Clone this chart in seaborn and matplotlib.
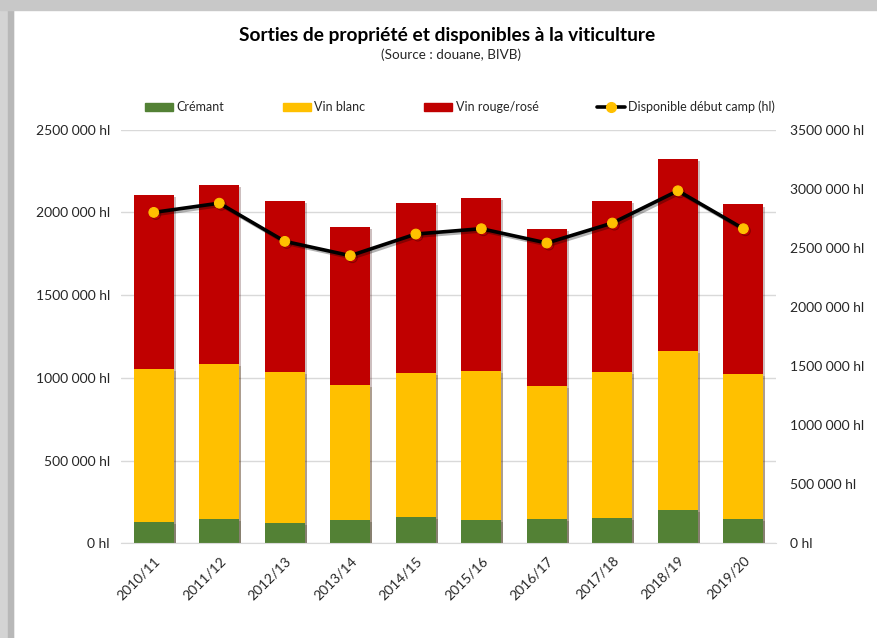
import matplotlib
matplotlib.use('Agg')
import matplotlib.pyplot as plt
import matplotlib.patheffects as pe
from matplotlib.patches import Rectangle, Patch
from matplotlib.lines import Line2D
from matplotlib.ticker import FuncFormatter
import seaborn as sns
import pandas as pd
import numpy as np

sns.set_style('white')
plt.rcParams['font.family'] = ['Lato', 'DejaVu Sans']

campagnes = ['2010/11', '2011/12', '2012/13', '2013/14', '2014/15',
             '2015/16', '2016/17', '2017/18', '2018/19', '2019/20']
cremant = [129000, 147000, 125000, 141000, 159000, 141000, 147000, 155000, 201000, 147000]
vin_blanc = [923000, 935000, 909000, 816000, 871000, 901000, 802000, 879000, 962000, 875000]
vin_rouge = [1054000, 1084000, 1037000, 955000, 1027000, 1046000, 951000, 1037000, 1159000, 1025000]
disponible = [2799000, 2877000, 2554000, 2433000, 2616000, 2661000, 2540000, 2709000, 2982000, 2661000]

c_green, c_yellow, c_red = '#538135', '#FFC000', '#C00000'

df = pd.DataFrame({'campagne': campagnes, 'cremant': cremant,
                   'blanc': vin_blanc, 'rouge': vin_rouge, 'dispo': disponible})
df['cum_blanc'] = df['cremant'] + df['blanc']
df['cum_total'] = df['cum_blanc'] + df['rouge']

fig = plt.figure(figsize=(8.77, 6.38), dpi=100)
ax = fig.add_axes([0.138, 0.1484, 0.747, 0.6486])

# stacked bars: draw cumulative totals from the top segment down
shadow = [pe.SimplePatchShadow(offset=(1.5, -1.5), alpha=0.25), pe.Normal()]
for col, color in [('cum_total', c_red), ('cum_blanc', c_yellow), ('cremant', c_green)]:
    sns.barplot(data=df, x='campagne', y=col, color=color, width=0.61,
                saturation=1, ax=ax, linewidth=0, zorder=2)
for p in ax.patches:
    p.set_path_effects(shadow)

ax.set_ylim(0, 2500000)
ax.set_yticks(np.arange(0, 2500001, 500000))
fmt = FuncFormatter(lambda v, _: '0 hl' if v == 0 else '%d 000 hl' % (v // 1000))
ax.yaxis.set_major_formatter(fmt)
ax.yaxis.grid(True, color='#d9d9d9', linewidth=1)
ax.set_axisbelow(True)
ax.set_xlabel('')
ax.set_ylabel('')
for s in ['top', 'right', 'left']:
    ax.spines[s].set_visible(False)
ax.spines['bottom'].set_color('#d9d9d9')
ax.tick_params(axis='both', length=0, labelsize=10, colors='#262626', pad=8)
ax.set_xlim(-0.5, len(campagnes) - 0.5)
plt.setp(ax.get_xticklabels(), rotation=45, ha='right', rotation_mode='anchor')

ax2 = ax.twinx()
sns.lineplot(x=np.arange(len(campagnes)), y=df['dispo'], ax=ax2, color='black',
             linewidth=2.6, marker='o', markersize=7, markerfacecolor=c_yellow,
             markeredgecolor=c_yellow, zorder=5,
             path_effects=[pe.SimpleLineShadow(offset=(1.5, -1.5), alpha=0.3), pe.Normal()])
ax2.set_ylim(0, 3500000)
ax2.set_yticks(np.arange(0, 3500001, 500000))
ax2.yaxis.set_major_formatter(fmt)
ax2.set_ylabel('')
for s in ['top', 'right', 'left', 'bottom']:
    ax2.spines[s].set_visible(False)
ax2.tick_params(axis='y', length=0, labelsize=10, colors='#262626', pad=10)
ax2.set_xlim(-0.5, len(campagnes) - 0.5)

fig.text(0.51, 0.945, 'Sorties de propriété et disponibles à la viticulture',
         ha='center', va='center', fontsize=13.8, fontweight='bold', color='black')
fig.text(0.514, 0.914, '(Source : douane, BIVB)', ha='center', va='center',
         fontsize=9.7, color='#262626')

handles = [Patch(color=c_green), Patch(color=c_yellow), Patch(color=c_red),
           Line2D([], [], color='black', linewidth=2.6, marker='o', markersize=7,
                  markerfacecolor=c_yellow, markeredgecolor=c_yellow)]
labels = ['Crémant', 'Vin blanc', 'Vin rouge/rosé', 'Disponible début camp (hl)']
fig.legend(handles, labels, loc='center', bbox_to_anchor=(0.525, 0.832), ncol=4,
           frameon=False, fontsize=9, columnspacing=4.7, handlelength=2.2,
           handleheight=0.6, handletextpad=0.3, labelcolor='#262626')

# gray card shadow on left and top
fig.patches.append(Rectangle((0, 0), 13 / 877, 1, transform=fig.transFigure,
                             color='#d4d4d4', zorder=0))
fig.patches.append(Rectangle((8 / 877, 0), 5 / 877, 1 - 10 / 638, transform=fig.transFigure,
                             color='#b8b8b8', zorder=0))
fig.patches.append(Rectangle((0, 1 - 10 / 638), 1, 10 / 638, transform=fig.transFigure,
                             color='#c8c8c8', zorder=0))

fig.savefig('out.png', dpi=100)
